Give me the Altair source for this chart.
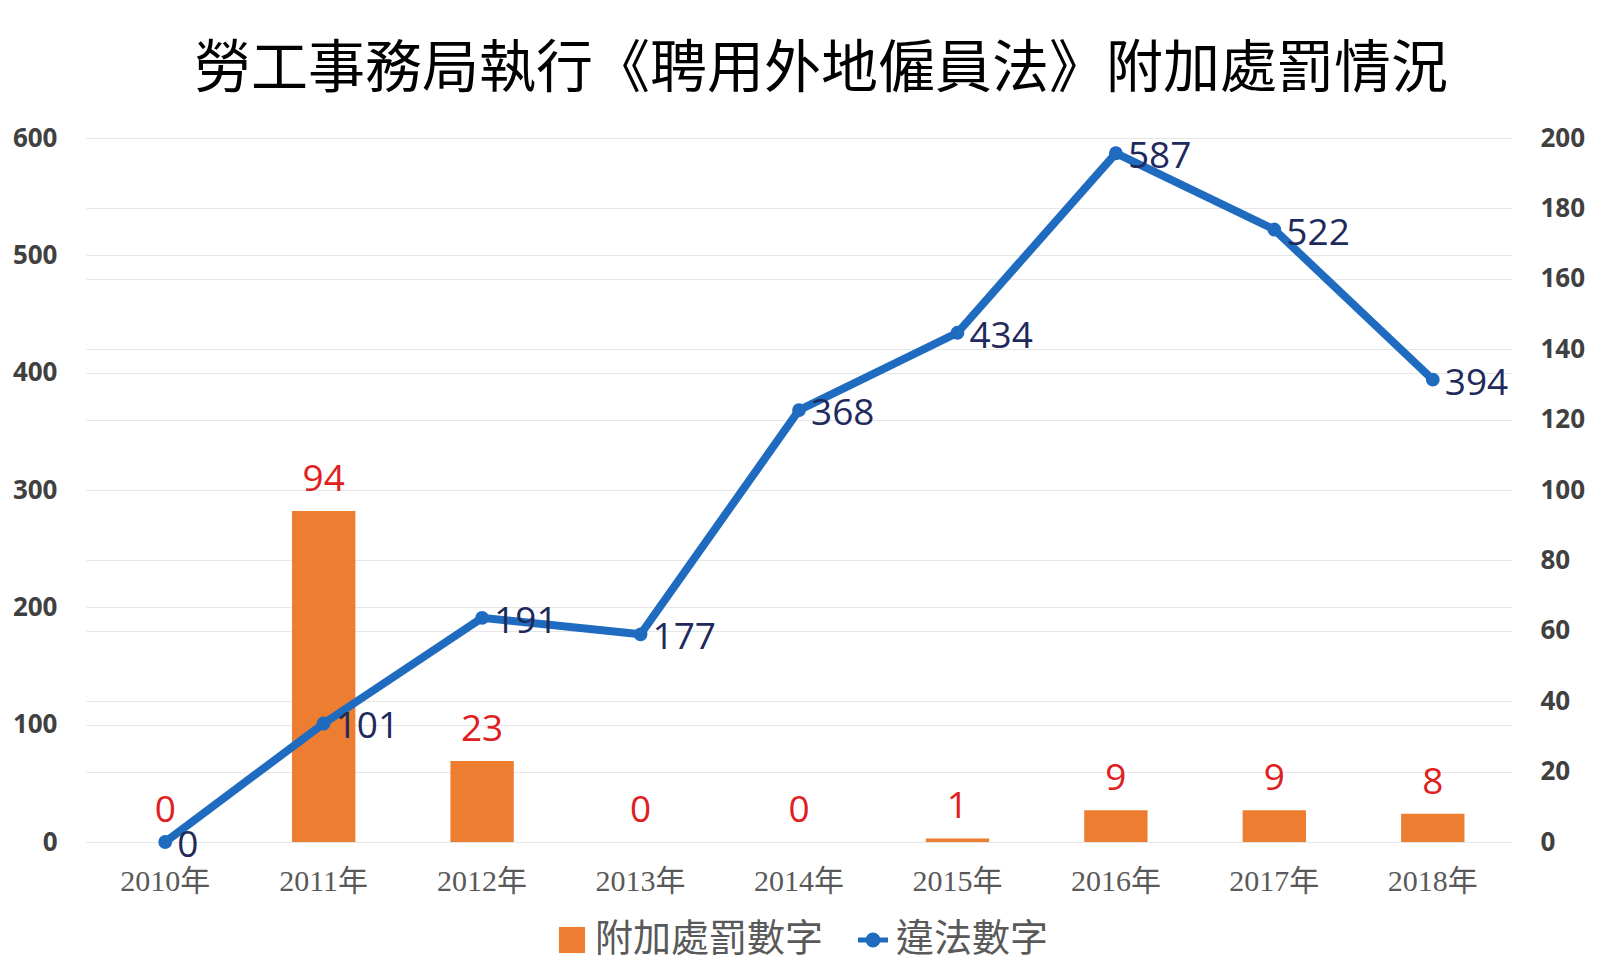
import altair as alt
import pandas as pd

years = ["2010年", "2011年", "2012年", "2013年", "2014年", "2015年", "2016年", "2017年", "2018年"]
penalty = [0, 94, 23, 0, 0, 1, 9, 9, 8]          # 附加處罰數字 (right axis)
violations = [0, 101, 191, 177, 368, 434, 587, 522, 394]  # 違法數字 (left axis)
left_ticks = [0, 100, 200, 300, 400, 500, 600]
right_ticks = [0, 20, 40, 60, 80, 100, 120, 140, 160, 180, 200]

BAR_NAME = "附加處罰數字"
LINE_NAME = "違法數字"
ORANGE = "#ED7D31"
BLUE = "#1F6BBF"

df = pd.DataFrame({
    "year": years,
    "penalty": penalty,
    "violations": violations,
    "bar_series": [BAR_NAME] * len(years),
    "line_series": [LINE_NAME] * len(years),
})

x_enc = alt.X(
    "year:N",
    sort=years,
    scale=alt.Scale(paddingInner=0.6, paddingOuter=0.3),
    axis=alt.Axis(
        title=None, labelAngle=0, ticks=False, domain=False, grid=False,
        labelFont="Liberation Serif, Noto Sans CJK TC", labelFontSize=30,
        labelColor="#595959", labelPadding=24,
    ),
)

right_axis = alt.Axis(
    orient="right", title=None, values=right_ticks, ticks=False, domain=False,
    grid=True, gridColor="#e6e6e6", gridWidth=1.2,
    labelFont="Open Sans", labelFontWeight="bold", labelFontSize=26,
    labelColor="#404040", labelPadding=28,
)
left_axis = alt.Axis(
    orient="left", title=None, values=left_ticks, ticks=False, domain=False,
    grid=True, gridColor="#e6e6e6", gridWidth=1.2,
    labelFont="Open Sans", labelFontWeight="bold", labelFontSize=26,
    labelColor="#404040", labelPadding=29,
)

y_right = alt.Y("penalty:Q", scale=alt.Scale(domain=[0, 200], nice=False), axis=right_axis)
y_left = alt.Y("violations:Q", scale=alt.Scale(domain=[0, 600], nice=False), axis=left_axis)

bars = alt.Chart(df).mark_bar(color=ORANGE).encode(
    x=x_enc,
    y=y_right,
    fill=alt.Fill(
        "bar_series:N",
        scale=alt.Scale(domain=[BAR_NAME], range=[ORANGE]),
        legend=alt.Legend(
            title=None, orient="none", legendX=467, legendY=783,
            symbolType="square", symbolSize=680,
            symbolStrokeWidth=0, labelFont="Noto Sans CJK TC", labelFontSize=38,
            labelColor="#595959", labelOffset=4, labelLimit=400,
        ),
    ),
)

bar_labels = alt.Chart(df).mark_text(
    color="#E02020", font="Open Sans", fontSize=37, baseline="bottom", dy=-12,
).encode(
    x=alt.X("year:N", sort=years),
    y=y_right,
    text="penalty:Q",
)

line_symbol = "M-1,0H1M-0.33,0A0.33,0.33 0 1,1 0.33,0A0.33,0.33 0 1,1 -0.33,0Z"

line = alt.Chart(df).mark_line(
    color=BLUE, strokeWidth=8,
    point=alt.OverlayMarkDef(filled=True, fill=BLUE, size=140, stroke="#3b86d6", strokeWidth=2),
).encode(
    x=alt.X("year:N", sort=years),
    y=y_left,
    stroke=alt.Stroke(
        "line_series:N",
        scale=alt.Scale(domain=[LINE_NAME], range=[BLUE]),
        legend=alt.Legend(
            title=None, orient="none", legendX=768, legendY=783,
            symbolType=line_symbol, symbolSize=900,
            symbolStrokeWidth=5, symbolFillColor=BLUE, labelFont="Noto Sans CJK TC",
            labelFontSize=38, labelColor="#595959", labelOffset=4, labelLimit=400,
        ),
    ),
)

line_labels = alt.Chart(df).mark_text(
    color="#1F2A5C", font="Open Sans", fontSize=37, align="left", baseline="middle", dx=12, dy=4,
).encode(
    x=alt.X("year:N", sort=years),
    y=y_left,
    text="violations:Q",
)

right_layer = alt.layer(bars, bar_labels)
left_layer = alt.layer(line, line_labels)

chart = alt.layer(right_layer, left_layer).resolve_scale(
    y="independent", fill="independent", stroke="independent"
).properties(
    width=1426,
    height=704,
    autosize=alt.AutoSizeParams(type="none"),
    padding={"left": 78, "top": 130, "right": 80, "bottom": 120},
    title=alt.TitleParams(
        "勞工事務局執行《聘用外地僱員法》附加處罰情況",
        font="Noto Sans CJK TC", fontSize=57, fontWeight="normal", color="#000000",
        anchor="middle", offset=26, dx=22,
    ),
).configure_view(stroke=None)

chart.save("out.html", embed_options={"renderer": "svg", "actions": False})
